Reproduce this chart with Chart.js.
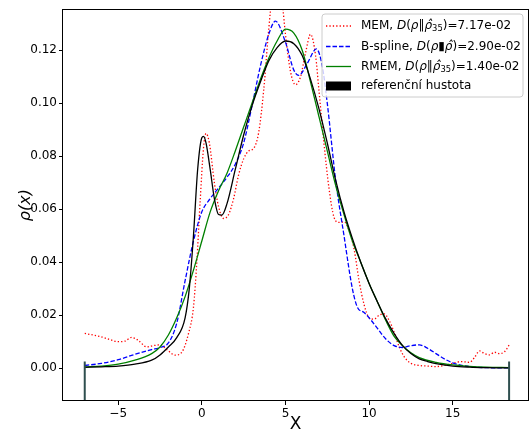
<!DOCTYPE html>
<html>
<head>
<meta charset="utf-8">
<script src="https://cdn.jsdelivr.net/npm/chart.js@4.4.0/dist/chart.umd.min.js"></script>
<style>
  html, body { margin: 0; padding: 0; background: #fff; }
  #wrap { position: relative; width: 529px; height: 436px; }
</style>
</head>
<body>
<div id="wrap"><canvas id="c" width="529" height="436"></canvas></div>
<script>
// ---- data ----
const refX  = [-7, -6, -5, -4, -3, -2.5, -2, -1.5, -1, -0.75, -0.5, -0.25, 0, 0.1, 0.25, 0.5, 0.75, 1.0, 1.2, 1.5, 2.0, 2.5, 3.0, 3.5, 4.0, 4.5, 5.0, 5.5, 6.0, 6.5, 7.0, 7.5, 8.0, 8.5, 9.0, 9.5, 10.0, 10.5, 11.0, 11.5, 12.0, 12.5, 13.0, 13.5, 14.0, 15.0, 16.0, 17.0, 18.37];
const refY  = [0.0003, 0.0005, 0.0008, 0.0015, 0.0030, 0.0050, 0.0080, 0.0115, 0.0190, 0.030, 0.050, 0.075, 0.087, 0.0875, 0.085, 0.075, 0.064, 0.058, 0.0578, 0.062, 0.075, 0.088, 0.099, 0.108, 0.116, 0.121, 0.1235, 0.1225, 0.118, 0.109, 0.098, 0.085, 0.071, 0.059, 0.049, 0.040, 0.032, 0.025, 0.0185, 0.013, 0.0085, 0.0055, 0.0035, 0.0025, 0.0017, 0.0008, 0.0004, 0.0002, 0.0001];

const rmemX = [-7, -6, -5, -4, -3, -2.5, -2, -1.5, -1, -0.5, 0, 0.5, 1.0, 1.5, 2.0, 2.5, 3.0, 3.5, 4.0, 4.5, 5.0, 5.5, 6.0, 6.5, 7.0, 7.5, 8.0, 8.5, 9.0, 9.5, 10.0, 10.5, 11.0, 11.5, 12.0, 12.5, 13.0, 14.0, 15.0, 16.0, 17.0, 18.37];
const rmemY = [0.0005, 0.0008, 0.0015, 0.0030, 0.0055, 0.008, 0.0125, 0.019, 0.027, 0.037, 0.048, 0.059, 0.067, 0.0735, 0.082, 0.091, 0.100, 0.109, 0.117, 0.1235, 0.128, 0.1265, 0.120, 0.108, 0.095, 0.082, 0.069, 0.058, 0.048, 0.040, 0.032, 0.025, 0.018, 0.012, 0.0085, 0.0058, 0.004, 0.0022, 0.0012, 0.0007, 0.0004, 0.0002];

const bsplX = [-7, -6, -5, -4, -3, -2.5, -2, -1.5, -1, -0.5, 0, 0.5, 1.0, 1.5, 2.0, 2.5, 3.0, 3.5, 4.0, 4.4, 5.0, 5.5, 5.8, 6.3, 6.85, 7.2, 7.5, 8.0, 8.5, 9.0, 9.3, 9.7, 10.0, 10.5, 11.0, 11.5, 12.0, 12.5, 13.0, 13.5, 14.0, 14.5, 15.0, 16.0, 17.0, 18.37];
const bsplY = [0.001, 0.0018, 0.0032, 0.0052, 0.0070, 0.0078, 0.0095, 0.017, 0.033, 0.048, 0.059, 0.064, 0.068, 0.072, 0.077, 0.085, 0.099, 0.114, 0.126, 0.131, 0.123, 0.1125, 0.1105, 0.115, 0.1205, 0.114, 0.100, 0.071, 0.050, 0.030, 0.023, 0.021, 0.019, 0.015, 0.011, 0.0085, 0.0078, 0.0085, 0.0088, 0.0075, 0.0055, 0.0035, 0.002, 0.0006, 0.0002, 0.0001];

const memX  = [-7, -6.5, -6.0, -5.5, -5.0, -4.6, -4.2, -3.8, -3.3, -2.9, -2.5, -2.0, -1.6, -1.2, -0.8, -0.5, -0.3, -0.1, 0.1, 0.25, 0.45, 0.75, 1.0, 1.3, 1.6, 1.9, 2.2, 2.5, 2.8, 3.1, 3.4, 3.7, 4.0, 4.2, 4.5, 4.8, 5.0, 5.3, 5.6, 5.9, 6.2, 6.5, 6.8, 7.0, 7.3, 7.6, 7.9, 8.2, 8.5, 8.8, 9.1, 9.4, 9.7, 10.0, 10.3, 10.6, 10.9, 11.2, 11.5, 11.8, 12.1, 12.5, 13.0, 13.5, 14.0, 14.5, 15.0, 15.5, 16.0, 16.3, 16.6, 16.9, 17.2, 17.5, 17.8, 18.1, 18.37];
const memY  = [0.0131, 0.0125, 0.0118, 0.0108, 0.0100, 0.0102, 0.0116, 0.0105, 0.0080, 0.0085, 0.0088, 0.0065, 0.0049, 0.0060, 0.013, 0.023, 0.040, 0.063, 0.083, 0.0886, 0.085, 0.070, 0.061, 0.0565, 0.058, 0.064, 0.073, 0.079, 0.082, 0.083, 0.089, 0.105, 0.128, 0.140, 0.146, 0.138, 0.126, 0.112, 0.107, 0.110, 0.119, 0.126, 0.118, 0.105, 0.085, 0.068, 0.057, 0.055, 0.0552, 0.052, 0.045, 0.033, 0.024, 0.019, 0.0185, 0.020, 0.0205, 0.018, 0.0135, 0.008, 0.0043, 0.0018, 0.0010, 0.0008, 0.0006, 0.0010, 0.0018, 0.0025, 0.0022, 0.0040, 0.0065, 0.0055, 0.0050, 0.0060, 0.0055, 0.0062, 0.0087];

const boundX   = [-7, 18.37];       // support edges of the reference density
const boundTop = 0.0025;

const xTicks = [-5, 0, 5, 10, 15];
const yTicks = [0.00, 0.02, 0.04, 0.06, 0.08, 0.10, 0.12];

const xTitle = 'X';
const yTitle = 'ρ(x)';

// legend texts: [text, style]  n = normal, i = italic, s = subscript
const legendMEM  = [['MEM, ', 'n'], ['D', 'i'], ['(', 'n'], ['ρ', 'i'], ['‖', 'n'], ['ρ̂', 'i'], ['35', 's'], [')=7.17e-02', 'n']];
const legendBS   = [['B-spline, ', 'n'], ['D', 'i'], ['(', 'n'], ['ρ', 'i'], ['▮', 'n'], ['ρ̂', 'i'], [')=2.90e-02', 'n']];
const legendRMEM = [['RMEM, ', 'n'], ['D', 'i'], ['(', 'n'], ['ρ', 'i'], ['‖', 'n'], ['ρ̂', 'i'], ['35', 's'], [')=1.40e-02', 'n']];
const legendRef  = [['referenční hustota', 'n']];

// ---- build ----
const pts = (xs, ys) => xs.map((x, i) => ({ x: x, y: ys[i] }));
const FONT = 'DejaVu Sans';

const datasets = [
  { label: 'MEM', data: pts(memX, memY), borderColor: '#ff0000', borderWidth: 1.3, borderDash: [1.3, 2.1], order: 4 },
  { label: 'B-spline', data: pts(bsplX, bsplY), borderColor: '#0000ff', borderWidth: 1.3, borderDash: [4.5, 2], order: 3 },
  { label: 'RMEM', data: pts(rmemX, rmemY), borderColor: '#008000', borderWidth: 1.3, order: 2 },
  { label: 'ref', data: pts(refX, refY), borderColor: '#000000', borderWidth: 1.3, order: 1 },
  { label: 'b1', data: [{ x: boundX[0], y: -1 }, { x: boundX[0], y: boundTop }], borderColor: '#2f4f4f', borderWidth: 2, order: 0, cubicInterpolationMode: 'default', tension: 0 },
  { label: 'b2', data: [{ x: boundX[1], y: -1 }, { x: boundX[1], y: boundTop }], borderColor: '#2f4f4f', borderWidth: 2, order: 0, cubicInterpolationMode: 'default', tension: 0 }
];
datasets.forEach(d => { d.pointRadius = 0; d.fill = false; if (!d.cubicInterpolationMode) d.cubicInterpolationMode = 'monotone'; });

function drawParts(ctx, parts, x, y) {
  const size = 12;
  let cx = x;
  for (const [t, s] of parts) {
    if (s === 's') {
      ctx.font = (size * 0.7).toFixed(1) + 'px "' + FONT + '"';
      ctx.fillText(t, cx, y + 3);
    } else {
      ctx.font = (s === 'i' ? 'oblique ' : '') + size + 'px "' + FONT + '"';
      ctx.fillText(t, cx, y);
    }
    cx += ctx.measureText(t).width;
  }
}

const frameAndLegend = {
  id: 'frameAndLegend',
  afterDatasetsDraw(chart) {
    const ctx = chart.ctx;
    const a = chart.chartArea;
    ctx.save();
    // legend box
    const bx = 322, by = 14, bw = 201, bh = 83, r = 3;
    ctx.beginPath();
    ctx.moveTo(bx + r, by);
    ctx.arcTo(bx + bw, by, bx + bw, by + bh, r);
    ctx.arcTo(bx + bw, by + bh, bx, by + bh, r);
    ctx.arcTo(bx, by + bh, bx, by, r);
    ctx.arcTo(bx, by, bx + bw, by, r);
    ctx.closePath();
    ctx.fillStyle = 'rgba(255,255,255,0.8)';
    ctx.fill();
    ctx.strokeStyle = '#cccccc';
    ctx.lineWidth = 1;
    ctx.stroke();

    const rows = [26, 46.5, 66.5, 86];
    const lx0 = 326, lx1 = 351, tx = 361;
    // samples
    ctx.lineWidth = 1.3;
    ctx.strokeStyle = '#ff0000'; ctx.setLineDash([1.3, 2.1]);
    ctx.beginPath(); ctx.moveTo(lx0, rows[0]); ctx.lineTo(lx1, rows[0]); ctx.stroke();
    ctx.strokeStyle = '#0000ff'; ctx.setLineDash([4.5, 2]);
    ctx.beginPath(); ctx.moveTo(lx0, rows[1]); ctx.lineTo(lx1, rows[1]); ctx.stroke();
    ctx.strokeStyle = '#008000'; ctx.setLineDash([]);
    ctx.beginPath(); ctx.moveTo(lx0, rows[2]); ctx.lineTo(lx1, rows[2]); ctx.stroke();
    ctx.fillStyle = '#000';
    ctx.fillRect(lx0, rows[3] - 4.5, lx1 - lx0, 9);

    ctx.fillStyle = '#000';
    ctx.textBaseline = 'middle';
    ctx.textAlign = 'left';
    drawParts(ctx, legendMEM, tx, rows[0]);
    drawParts(ctx, legendBS, tx, rows[1]);
    drawParts(ctx, legendRMEM, tx, rows[2]);
    drawParts(ctx, legendRef, tx, rows[3]);

    // frame
    ctx.strokeStyle = '#000';
    ctx.lineWidth = 1;
    ctx.strokeRect(Math.round(a.left) - 0.5, Math.round(a.top) + 0.5, Math.round(a.right - a.left) + 1, Math.round(a.bottom - a.top) - 1);
    ctx.restore();
  }
};

new Chart(document.getElementById('c'), {
  type: 'line',
  data: { datasets: datasets },
  plugins: [frameAndLegend],
  options: {
    responsive: false,
    animation: false,
    devicePixelRatio: 1,
    layout: { padding: { top: 8, right: 1, left: 0, bottom: 0 } },
    plugins: { legend: { display: false }, tooltip: { enabled: false } },
    scales: {
      x: {
        type: 'linear', min: -8.3, max: 19.5,
        afterFit: s => { s.height = 35; },
        afterBuildTicks: s => { s.ticks = xTicks.map(v => ({ value: v })); },
        grid: { drawOnChartArea: false, drawTicks: true, tickLength: 4, color: '#000' },
        border: { display: false },
        ticks: { color: '#000', font: { family: FONT, size: 12 }, padding: 2, maxRotation: 0,
                 callback: v => (v < 0 ? '\u2212' + Math.abs(v) : String(v)) },
        title: { display: true, text: xTitle, color: '#000', font: { family: FONT, size: 17 }, padding: { top: 0, bottom: 1 } }
      },
      y: {
        type: 'linear', min: -0.0124, max: 0.1355,
        afterFit: s => { s.width = 63; },
        afterBuildTicks: s => { s.ticks = yTicks.map(v => ({ value: v })); },
        grid: { drawOnChartArea: false, drawTicks: true, tickLength: 4, color: '#000' },
        border: { display: false },
        ticks: { color: '#000', font: { family: FONT, size: 12 }, padding: 2,
                 callback: v => Number(v).toFixed(2) },
        title: { display: true, text: yTitle, color: '#000', font: { family: FONT, size: 16, style: 'italic' }, padding: { top: 16, bottom: 0 } }
      }
    }
  }
});
</script>
</body>
</html>
